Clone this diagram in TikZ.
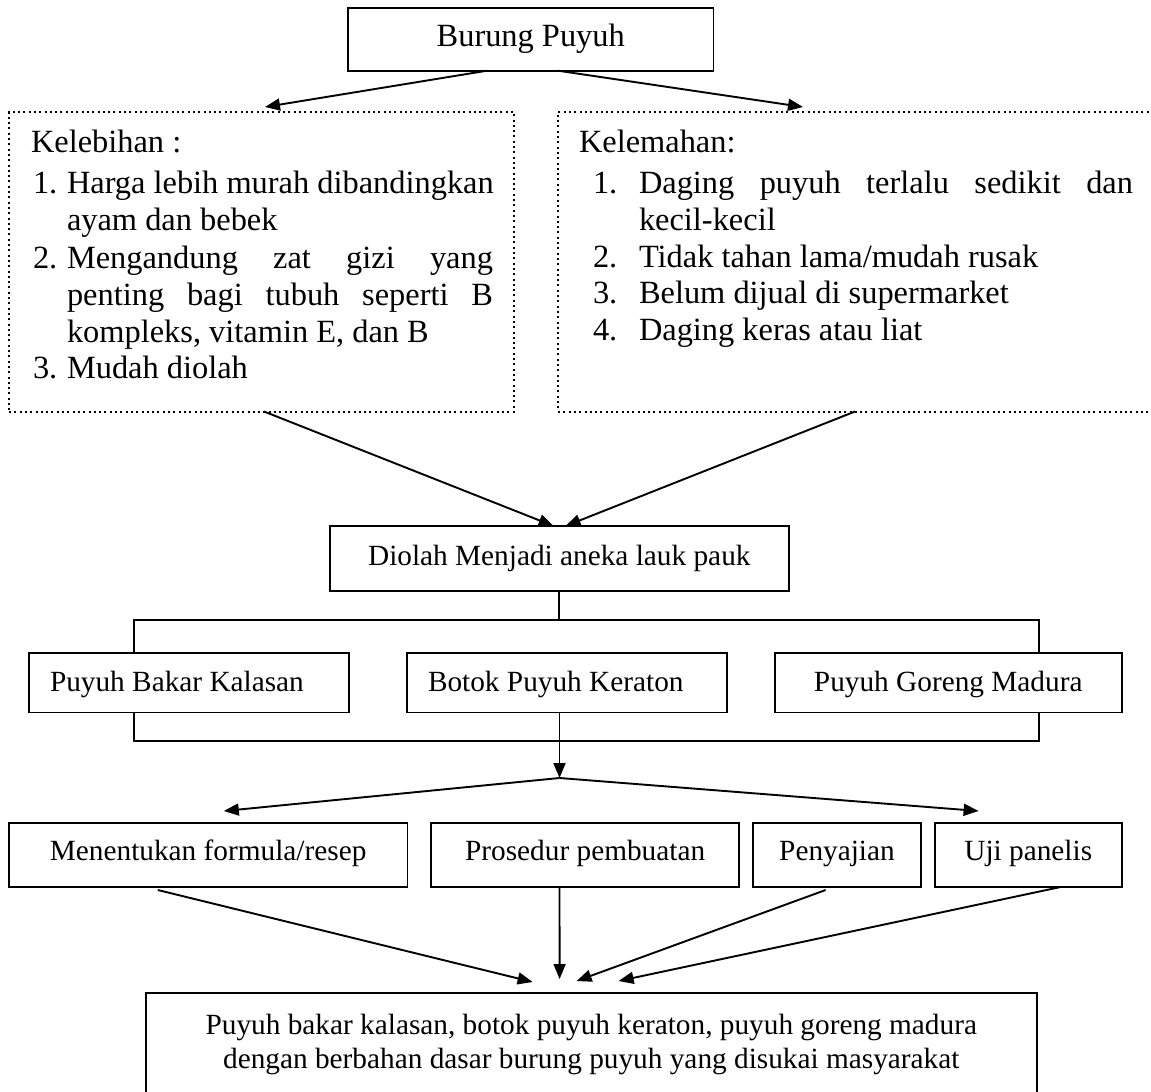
\documentclass[tikz,border=0pt]{standalone}
\usepackage{fontspec}
\setmainfont{Liberation Serif}
\usetikzlibrary{arrows.meta,calc}
\begin{document}
\begin{tikzpicture}[x=1pt,y=-1pt,
  box/.style={draw,line width=1.9pt,inner sep=0pt,outer sep=0pt},
  dotbox/.style={draw,line width=2pt,dash pattern=on 2pt off 3.3pt,inner sep=0pt,outer sep=0pt},
  big/.style={font=\fontsize{32.4}{37}\selectfont},
  small/.style={font=\fontsize{29.3}{34}\selectfont},
  rowthree/.style={text height=22pt,text depth=4.6pt},
  rowfour/.style={text height=20pt,text depth=9.4pt},
  rowmid/.style={text height=20pt,text depth=6.6pt},
  txt/.style={big,anchor=base west,inner sep=0pt,outer sep=0pt},
  stxtw/.style={small,anchor=base west,inner sep=0pt,outer sep=0pt},
  stxt/.style={small,anchor=base,inner sep=0pt,outer sep=0pt},
  conn/.style={line width=1.9pt},
  arr/.style={conn,-{Triangle[length=15pt,width=12pt]}},
]
\useasboundingbox (0,0) rectangle (1151,1092);

% top box
\node[box,big,text height=21pt,text depth=6.6pt,minimum width=365.5pt,minimum height=62.4pt] (bp) at (530.75,39.5) {Burung Puyuh};

% dotted boxes
\node[dotbox,minimum width=505pt,minimum height=299.5pt] (L) at (261.5,261.75) {};
\node[dotbox,minimum width=612pt,minimum height=299.5pt] (R) at (864,261.75) {};

% left box text
\node[txt] (l0) at (31,152) {Kelebihan :};
\node[txt] (l1n) at (33,193) {1.};
\node[txt] (l1) at (67,193) {Harga lebih murah dibandingkan};
\node[txt] (l1b) at (67,230) {ayam dan bebek};
\node[txt] (l2n) at (33,268) {2.};
\node[txt] (l2) at (67,268) {\makebox[426pt][s]{Mengandung zat gizi yang}};
\node[txt] (l2b) at (67,305) {\makebox[426pt][s]{penting bagi tubuh seperti B}};
\node[txt] (l2c) at (67,342) {kompleks, vitamin E, dan B};
\node[txt] (l3n) at (33,378) {3.};
\node[txt] (l3) at (67,378) {Mudah diolah};

% right box text
\node[txt] (r0) at (579,152) {Kelemahan:};
\node[txt] (r1n) at (593,193) {1.};
\node[txt] (r1) at (639,193) {\makebox[494pt][s]{Daging puyuh terlalu sedikit dan}};
\node[txt] (r1b) at (639,230) {kecil-kecil};
\node[txt] (r2n) at (593,267) {2.};
\node[txt] (r2) at (639,267) {Tidak tahan lama/mudah rusak};
\node[txt] (r3n) at (593,303) {3.};
\node[txt] (r3) at (639,303) {Belum dijual di supermarket};
\node[txt] (r4n) at (593,340) {4.};
\node[txt] (r4) at (639,340) {Daging keras atau liat};

% Diolah
\node[box,small,rowmid,minimum width=459.4pt,minimum height=64.7pt] (dio) at (559.3,558.35) {Diolah Menjadi aneka lauk pauk};

% row 3
\node[box,minimum width=320pt,minimum height=59.2pt] (pbk) at (189.4,682.9) {};
\node[stxtw] (pbkt) at (50,691.7) {Puyuh Bakar Kalasan};
\node[box,minimum width=320pt,minimum height=59.2pt] (bpk) at (566.9,682.9) {};
\node[stxtw] (bpkt) at (428,691.7) {Botok Puyuh Keraton};
\node[box,small,rowthree,minimum width=347.3pt,minimum height=59.2pt] (pgm) at (948.25,682.9) {Puyuh Goreng Madura};

% row 4
\node[box,small,rowfour,minimum width=398.7pt,minimum height=64pt] (men) at (208.15,855) {Menentukan formula/resep};
\node[box,small,rowfour,minimum width=308.3pt,minimum height=64pt] (pro) at (585.15,855) {Prosedur pembuatan};
\node[box,small,rowfour,minimum width=168.8pt,minimum height=64pt] (pen) at (837,855) {Penyajian};
\node[box,small,rowfour,minimum width=187.3pt,minimum height=64pt] (uji) at (1028.25,855) {Uji panelis};

% final
\node[box,minimum width=891.4pt,minimum height=110pt] (fin) at (591.3,1048) {};
\node[stxt] (ft1) at (591.3,1034) {Puyuh bakar kalasan, botok puyuh keraton, puyuh goreng madura};
\node[stxt] (ft2) at (591.3,1068) {dengan berbahan dasar burung puyuh yang disukai masyarakat};

% connectors
\draw[arr] ([xshift=139pt]bp.south west) -- ([xshift=256pt,yshift=5pt]L.north west);
\draw[arr] ([xshift=210pt]bp.south west) -- ([xshift=245pt,yshift=5pt]R.north west);
\draw[arr] ([xshift=255pt]L.south west) -- ([xshift=224pt]dio.north west);
\draw[arr] ([xshift=297pt]R.south west) -- ([xshift=236pt]dio.north west);

\coordinate (tl) at (134.4,620);
\coordinate (tr) at (1039,620);
\coordinate (bl) at (134.4,740.7);
\coordinate (br) at (1039,740.7);
\draw[conn] (dio.south) -- (dio.south |- tl);
\draw[conn] (tl |- pbk.north) -- (tl) -- (tr) -- (tr |- pgm.north);
\draw[conn] (bl |- pbk.south) -- (bl) -- (br) -- (br |- pgm.south);

\coordinate (split) at (559.5,778);
\draw[arr] (bpk.south -| split) -- (split);
\draw[arr] (split) -- ([xshift=215pt,yshift=12pt]men.north west);
\draw[arr] (split) -- ([xshift=44pt,yshift=12pt]uji.north west);

\draw[arr] ([xshift=149pt,yshift=-3pt]men.south west) -- ([xshift=387pt,yshift=11pt]fin.north west);
\draw[arr] ([xshift=128.5pt]pro.south west) -- ([xshift=414pt,yshift=14pt]fin.north west);
\draw[arr] ([xshift=73pt,yshift=-3pt]pen.south west) -- ([xshift=431pt,yshift=12pt]fin.north west);
\draw[arr] ([xshift=126pt]uji.south west) -- ([xshift=473pt,yshift=12pt]fin.north west);
\end{tikzpicture}
\end{document}
